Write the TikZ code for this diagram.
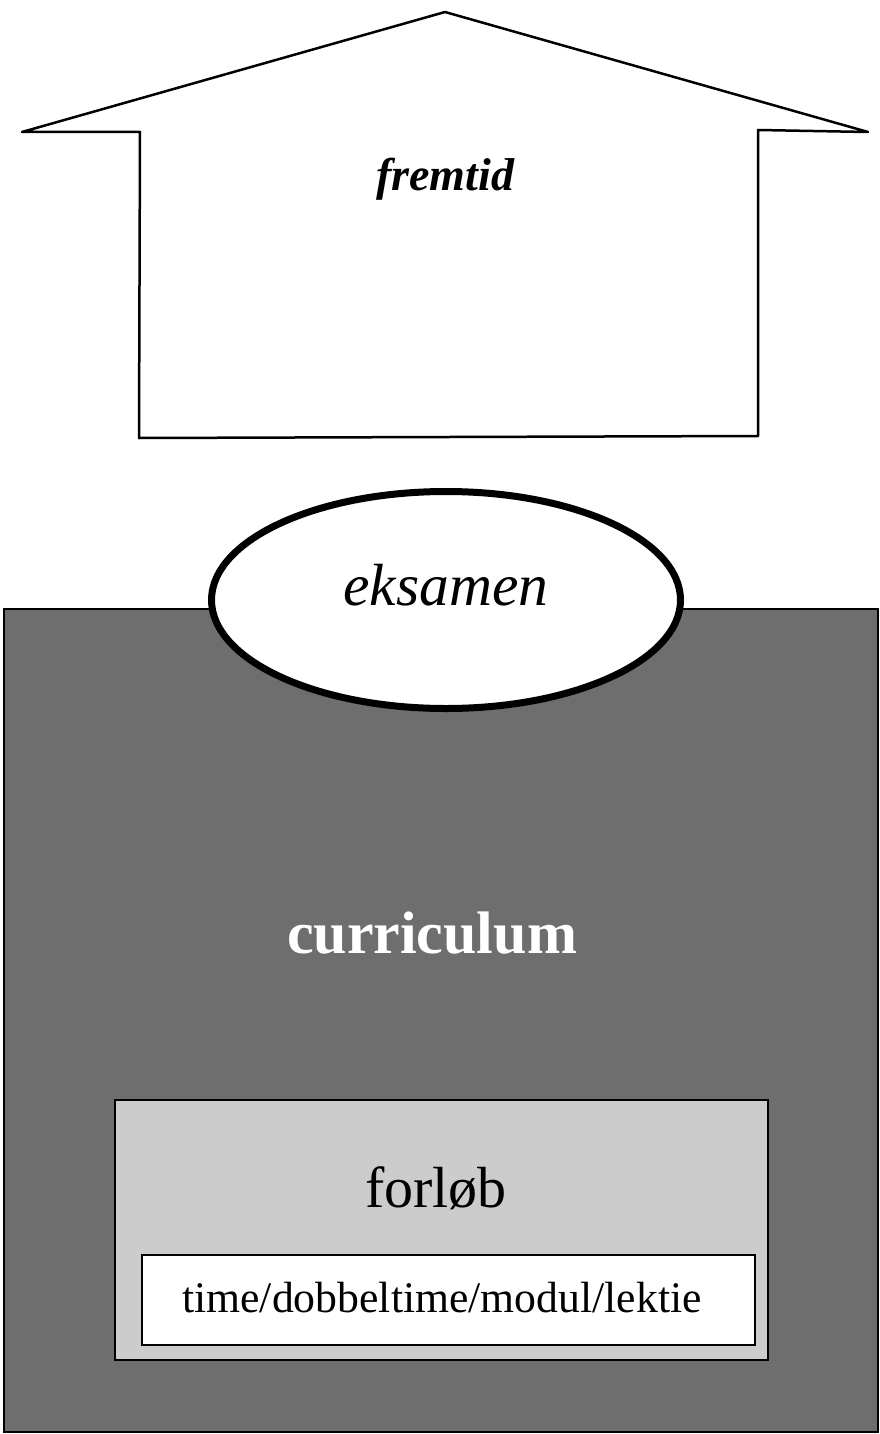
\documentclass[tikz,border=0pt]{standalone}
\usepackage{fontspec}
\setmainfont{Liberation Serif}
\usetikzlibrary{shapes.geometric}
\definecolor{darkgrey}{HTML}{6E6E6E}
\definecolor{lightgrey}{HTML}{CCCCCC}
\tikzset{
  box/.style={draw=black, rectangle, inner sep=0pt},
  lbl/.style={inner sep=0pt, anchor=base},
}
\begin{document}
\begin{tikzpicture}[x=1pt,y=-1pt]
\useasboundingbox (0,0) rectangle (880,1434);
% house
\draw[line width=2.5pt, line join=round] (22,132) -- (445,12) -- (868,132) -- (758,130) -- (758,436) -- (139,438) -- (140,132) -- cycle;
\node[lbl] (fremtid) at (445,191) {\fontsize{46}{50}\selectfont\bfseries\itshape fremtid};
% curriculum block
\node[box, fill=darkgrey, line width=2pt, minimum width=874pt, minimum height=823pt] (curr) at (441,1020.5) {};
\node[lbl, text=white] (currtxt) at (432,953) {\fontsize{60}{64}\selectfont\bfseries curriculum};
% forloeb
\node[box, fill=lightgrey, line width=2.5pt, minimum width=653pt, minimum height=260pt] (forlob) at (441.5,1230) {};
\node[lbl] (forlobtxt) at (436,1207) {\fontsize{58}{62}\selectfont forløb};
\node[box, fill=white, line width=2pt, minimum width=613pt, minimum height=90pt] (time) at (448.5,1299.5) {};
\node[lbl] (timetxt) at (442,1312) {\fontsize{43.7}{48}\selectfont time/dobbeltime/modul/lektie};
% eksamen
\node[draw=black, fill=white, ellipse, line width=7pt, minimum width=469pt, minimum height=217pt, inner sep=0pt] (eks) at (446,600) {};
\node[lbl] (ekstxt) at (446,605) {\fontsize{59.5}{64}\selectfont\itshape eksamen};
\end{tikzpicture}
\end{document}
